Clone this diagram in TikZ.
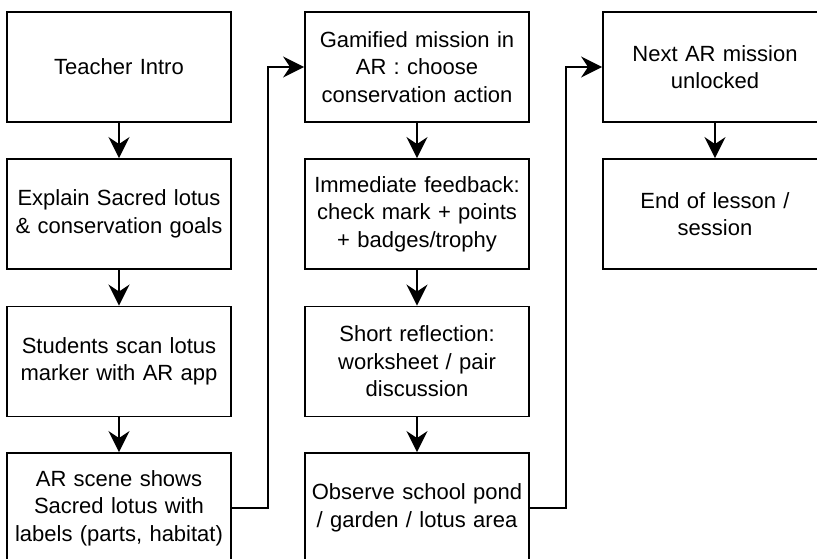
\documentclass[tikz,border=0pt]{standalone}
\usepackage{fontspec}
\setmainfont{Liberation Sans}
\usetikzlibrary{arrows.meta}
\begin{document}
\begin{tikzpicture}[x=1pt,y=-1pt,
  box/.style={draw=black, line width=1.9pt, minimum width=224pt, minimum height=110pt,
    inner sep=0pt, text width=222pt, align=center,
    font=\fontsize{22pt}{27.5pt}\selectfont},
  conn/.style={draw=black, line width=1.9pt,
    -{Stealth[length=21pt,width=21pt,inset=7pt]}}]
\useasboundingbox (0,0) rectangle (817,559);
\clip (0,0) rectangle (817,559);
\fill[white] (0,0) rectangle (817,559);
% column 1
\node[box] (a1) at (119,67) {Teacher Intro};
\node[box] (a2) at (119,214) {Explain Sacred lotus\\\& conservation goals};
\node[box] (a3) at (119,361.5) {Students scan lotus\\marker with AR app};
\node[box] (a4) at (119,508) {AR scene shows\\Sacred lotus with\\labels (parts, habitat)};
% column 2
\node[box] (b1) at (417,67) {Gamified mission in\\AR : choose\\conservation action};
\node[box] (b2) at (417,214) {Immediate feedback:\\check mark + points\\+ badges/trophy};
\node[box] (b3) at (417,361.5) {Short reflection:\\worksheet / pair\\discussion};
\node[box] (b4) at (417,508) {Observe school pond\\/ garden / lotus area};
% column 3
\node[box] (c1) at (715,67) {Next AR mission\\unlocked};
\node[box] (c2) at (715,214) {End of lesson /\\session};
% connectors
\draw[conn] (a1) -- (a2);
\draw[conn] (a2) -- (a3);
\draw[conn] (a3) -- (a4);
\draw[conn] (b1) -- (b2);
\draw[conn] (b2) -- (b3);
\draw[conn] (b3) -- (b4);
\draw[conn] (c1) -- (c2);
\coordinate (j1) at (268,508);
\coordinate (j2) at (566,508);
\draw[conn] (a4.east) -- (j1) |- (b1.west);
\draw[conn] (b4.east) -- (j2) |- (c1.west);
\end{tikzpicture}
\end{document}
